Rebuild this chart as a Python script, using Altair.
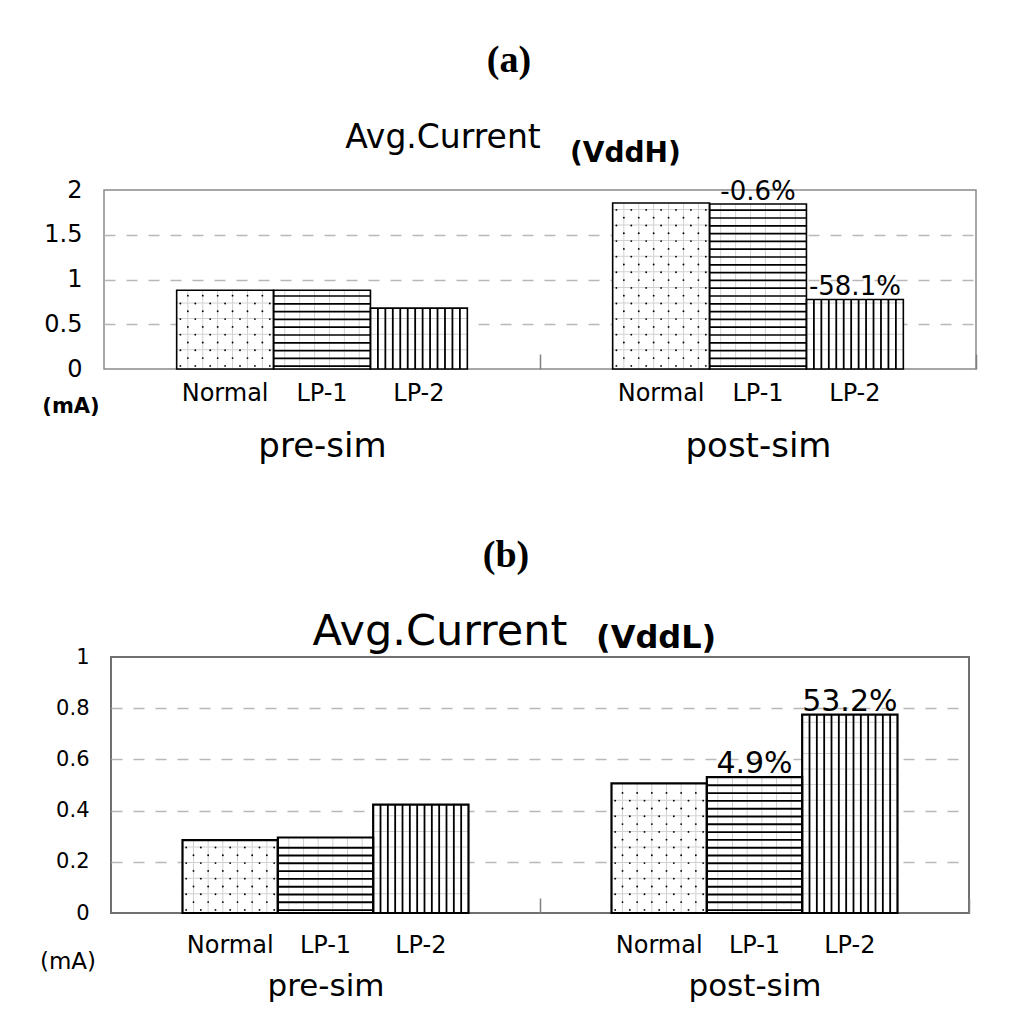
import altair as alt
import pandas as pd

# ---------------- data ----------------
groups = ["pre-sim", "post-sim"]
series = ["Normal", "LP-1", "LP-2"]

vddh_pre = [0.88, 0.88, 0.68]
vddh_post = [1.855, 1.844, 0.777]
vddh_pct = ["", "", "", "", "-0.6%", "-58.1%"]
vddh_ticks = [0, 0.5, 1, 1.5, 2]

vddl_pre = [0.285, 0.295, 0.423]
vddl_post = [0.506, 0.531, 0.775]
vddl_pct = ["", "", "", "", "4.9%", "53.2%"]
vddl_ticks = [0, 0.2, 0.4, 0.6, 0.8, 1]

panel_tags = ["(a)", "(b)"]
title_main = ["Avg.Current", "Avg.Current"]
title_rail = ["(VddH)", "(VddL)"]
unit_label = ["(mA)", "(mA)"]

NS = 13  # hatch slots per bar
FONT = "DejaVu Sans"
PAD_IN = 1 / 3
PAD_OUT = 1 / 6


def panel(pre, post, pct, ticks, idx, W, H, st):
    ymax = ticks[-1]
    rows = []
    for gix, g in enumerate(groups):
        vals = pre if gix == 0 else post
        for si, s in enumerate(series):
            rows.append(dict(group=g, series=s, value=vals[si],
                             pct=pct[gix * 3 + si], sidx=si,
                             gi=2 * NS * si + NS))
    df = pd.DataFrame(rows)

    dstep = st["row_px"] * ymax / H
    thick = st["line_px"] * ymax / H
    thin = 1.0 * ymax / H
    dots, hl, vl, fv, fh = [], [], [], [], []
    for r in rows:
        base = r["sidx"] * NS
        v = r["value"]
        g = r["group"]
        s = r["series"]
        if s == "Normal":
            ri = 0
            while (ri + 0.4) * dstep < v - 0.35 * dstep:
                y = (ri + 0.4) * dstep
                for k in range(NS):
                    if (k + ri) % 2 == 0:
                        dots.append(dict(group=g, gi=2 * (base + k) + 1, y=y))
                ri += 1
        if s in ("Normal", "LP-2"):
            ri = 0
            while (ri + 0.4) * dstep < v - 0.35 * dstep:
                if ri % 2 == 0 and ri > 0:
                    y = (ri + 0.4) * dstep
                    fh.append(dict(group=g, series=s, y=y, y2=y + thin))
                ri += 1
        if s in ("Normal", "LP-1"):
            for k in range(NS):
                if k % 2 == 1:
                    fv.append(dict(group=g, gi=2 * (base + k) + 1, y=0.0, y2=v))
        if s == "LP-1":
            ri = 0
            while (ri + 0.25) * dstep < v - 0.5 * dstep:
                y = (ri + 0.25) * dstep
                hl.append(dict(group=g, series=s, y=y, y2=y + thick))
                ri += 1
        if s == "LP-2":
            for k in range(1, NS):
                vl.append(dict(group=g, gi=2 * (base + k), y=0.0, y2=v))

    xsc = alt.Scale(domain=groups, paddingInner=PAD_IN, paddingOuter=PAD_OUT)
    ysc = alt.Scale(domain=[0, ymax], nice=False, zero=True)
    off_band = alt.Scale(type="band", domain=series, paddingInner=0, paddingOuter=0)
    off_pt = alt.Scale(type="point", domain=list(range(2 * 3 * NS + 1)), padding=0)

    # category separator ticks sit halfway between group centres;
    # labels are shifted back to the group centres
    half_step = W / len(groups) / 2
    x_axis = alt.Axis(title=None, labelAngle=0, labelFont=FONT,
                      labelFontSize=st["grp_size"], labelColor="black",
                      labelPadding=st["grp_pad"], ticks=True,
                      tickOffset=half_step, labelOffset=-half_step, tickSize=15,
                      tickColor="#808080", tickWidth=1.5,
                      offset=-15, domain=False, grid=False)
    y_axis = alt.Axis(title=None, values=ticks, format="~g", ticks=False,
                      domain=False, labelFont=FONT, labelFontSize=st["ytick_size"],
                      labelColor="black", labelPadding=st["ylab_pad"], grid=True,
                      gridDash=[11, 11], gridColor="#b8b8b8", gridWidth=1.4,
                      gridOpacity=alt.condition(
                          f"datum.value > 0 && datum.value < {ymax}",
                          alt.value(1), alt.value(0)))

    def xq():
        return alt.X("group:N", scale=xsc, sort=groups, axis=x_axis)

    def yq(f):
        return alt.Y(f + ":Q", scale=ysc, axis=y_axis)

    xo_band = alt.XOffset("series:N", scale=off_band, sort=series)
    xo_pt = alt.XOffset("gi:O", scale=off_pt)

    base_bars = alt.Chart(df).mark_bar(fill="white", strokeWidth=0).encode(
        x=xq(), xOffset=xo_band, y=yq("value"))

    faint_h = alt.Chart(pd.DataFrame(fh)).mark_bar(color="#d2d2d2").encode(
        x=xq(), xOffset=xo_band, y=yq("y"), y2="y2:Q")
    faint_v = alt.Chart(pd.DataFrame(fv)).mark_rule(color="#d2d2d2", strokeWidth=1).encode(
        x=xq(), xOffset=xo_pt, y=yq("y"), y2="y2:Q")
    dot_l = alt.Chart(pd.DataFrame(dots)).mark_circle(color="black", size=3.5, opacity=1).encode(
        x=xq(), xOffset=xo_pt, y=yq("y"))
    hl_l = alt.Chart(pd.DataFrame(hl)).mark_bar(color="black").encode(
        x=xq(), xOffset=xo_band, y=yq("y"), y2="y2:Q")
    vl_l = alt.Chart(pd.DataFrame(vl)).mark_rule(color="black", strokeWidth=st["vline_w"]).encode(
        x=xq(), xOffset=xo_pt, y=yq("y"), y2="y2:Q")
    outline = alt.Chart(df).mark_bar(fillOpacity=0, stroke="black",
                                     strokeWidth=st["bar_sw"]).encode(
        x=xq(), xOffset=xo_band, y=yq("value"))

    pct_l = alt.Chart(df).transform_filter("datum.pct != ''").mark_text(
        font=FONT, fontSize=st["pct_size"], baseline="alphabetic", dy=-4,
        color="black").encode(
        x=xq(), xOffset=xo_pt, y=yq("value"), text="pct:N")
    sub_l = alt.Chart(df).mark_text(
        font=FONT, fontSize=st["sub_size"], baseline="alphabetic",
        color="black").encode(
        x=xq(), xOffset=xo_pt, y=alt.value(H + st["sub_dy"]), text="series:N")

    tdf = pd.DataFrame({"tag": [panel_tags[idx]], "main": [title_main[idx]],
                        "rail": [title_rail[idx]], "unit": [unit_label[idx]]})
    tag_l = alt.Chart(tdf).mark_text(
        font="Liberation Serif", fontWeight="bold", fontSize=38,
        baseline="alphabetic", align="center", color="black").encode(
        text="tag:N", x=alt.value(st["tag_x"]), y=alt.value(st["tag_y"]))
    main_l = alt.Chart(tdf).mark_text(
        font=FONT, fontSize=st["main_size"], baseline="alphabetic",
        align="center", color="black").encode(
        text="main:N", x=alt.value(st["main_x"]), y=alt.value(st["main_y"]))
    rail_l = alt.Chart(tdf).mark_text(
        font=FONT, fontWeight="bold", fontSize=st["rail_size"],
        baseline="alphabetic", align="left", color="black").encode(
        text="rail:N", x=alt.value(st["rail_x"]), y=alt.value(st["rail_y"]))
    unit_l = alt.Chart(tdf).mark_text(
        font=FONT, fontWeight=st["unit_w"], fontSize=st["unit_size"],
        baseline="middle", align="center", color="black").encode(
        text="unit:N", x=alt.value(st["unit_x"]), y=alt.value(st["unit_y"]))

    layer = alt.layer(base_bars, faint_h, faint_v, dot_l, hl_l, vl_l, outline,
                      pct_l, sub_l, tag_l, main_l, rail_l, unit_l)
    layer = layer.resolve_scale(xOffset="independent").properties(
        width=W, height=H,
        view=alt.ViewBackground(stroke=st["frame_c"], strokeWidth=st["frame_w"]))
    return layer


st_a = dict(row_px=7.8, line_px=1.7, vline_w=1.8, bar_sw=1.6,
            grp_size=34, grp_pad=60, ytick_size=24, ylab_pad=22, pct_size=26,
            sub_size=24, sub_dy=32,
            tag_x=405, tag_y=-118, main_size=33, main_x=339, main_y=-42,
            rail_size=28, rail_x=466, rail_y=-28,
            unit_w="bold", unit_size=21, unit_x=-33, unit_y=217,
            frame_c="#8a8a8a", frame_w=1.5)
st_b = dict(row_px=7.8, line_px=1.9, vline_w=1.8, bar_sw=2.2,
            grp_size=31, grp_pad=58, ytick_size=21, ylab_pad=22, pct_size=30,
            sub_size=24, sub_dy=40,
            tag_x=395, tag_y=-90, main_size=43, main_x=329, main_y=-12,
            rail_size=32, rail_x=485, rail_y=-9,
            unit_w="normal", unit_size=23, unit_x=-43, unit_y=305,
            frame_c="#707070", frame_w=2)

pa = panel(vddh_pre, vddh_post, vddh_pct, vddh_ticks, 0, 872, 179, st_a)
pb = panel(vddl_pre, vddl_post, vddl_pct, vddl_ticks, 1, 858, 256, st_b)

chart = alt.vconcat(pa, pb, spacing=288, center=True, bounds="flush").properties(
    padding={"left": 30, "top": 33, "right": 5, "bottom": 5},
    background="white")

chart.save("out.html", embed_options={"renderer": "svg", "actions": False})
